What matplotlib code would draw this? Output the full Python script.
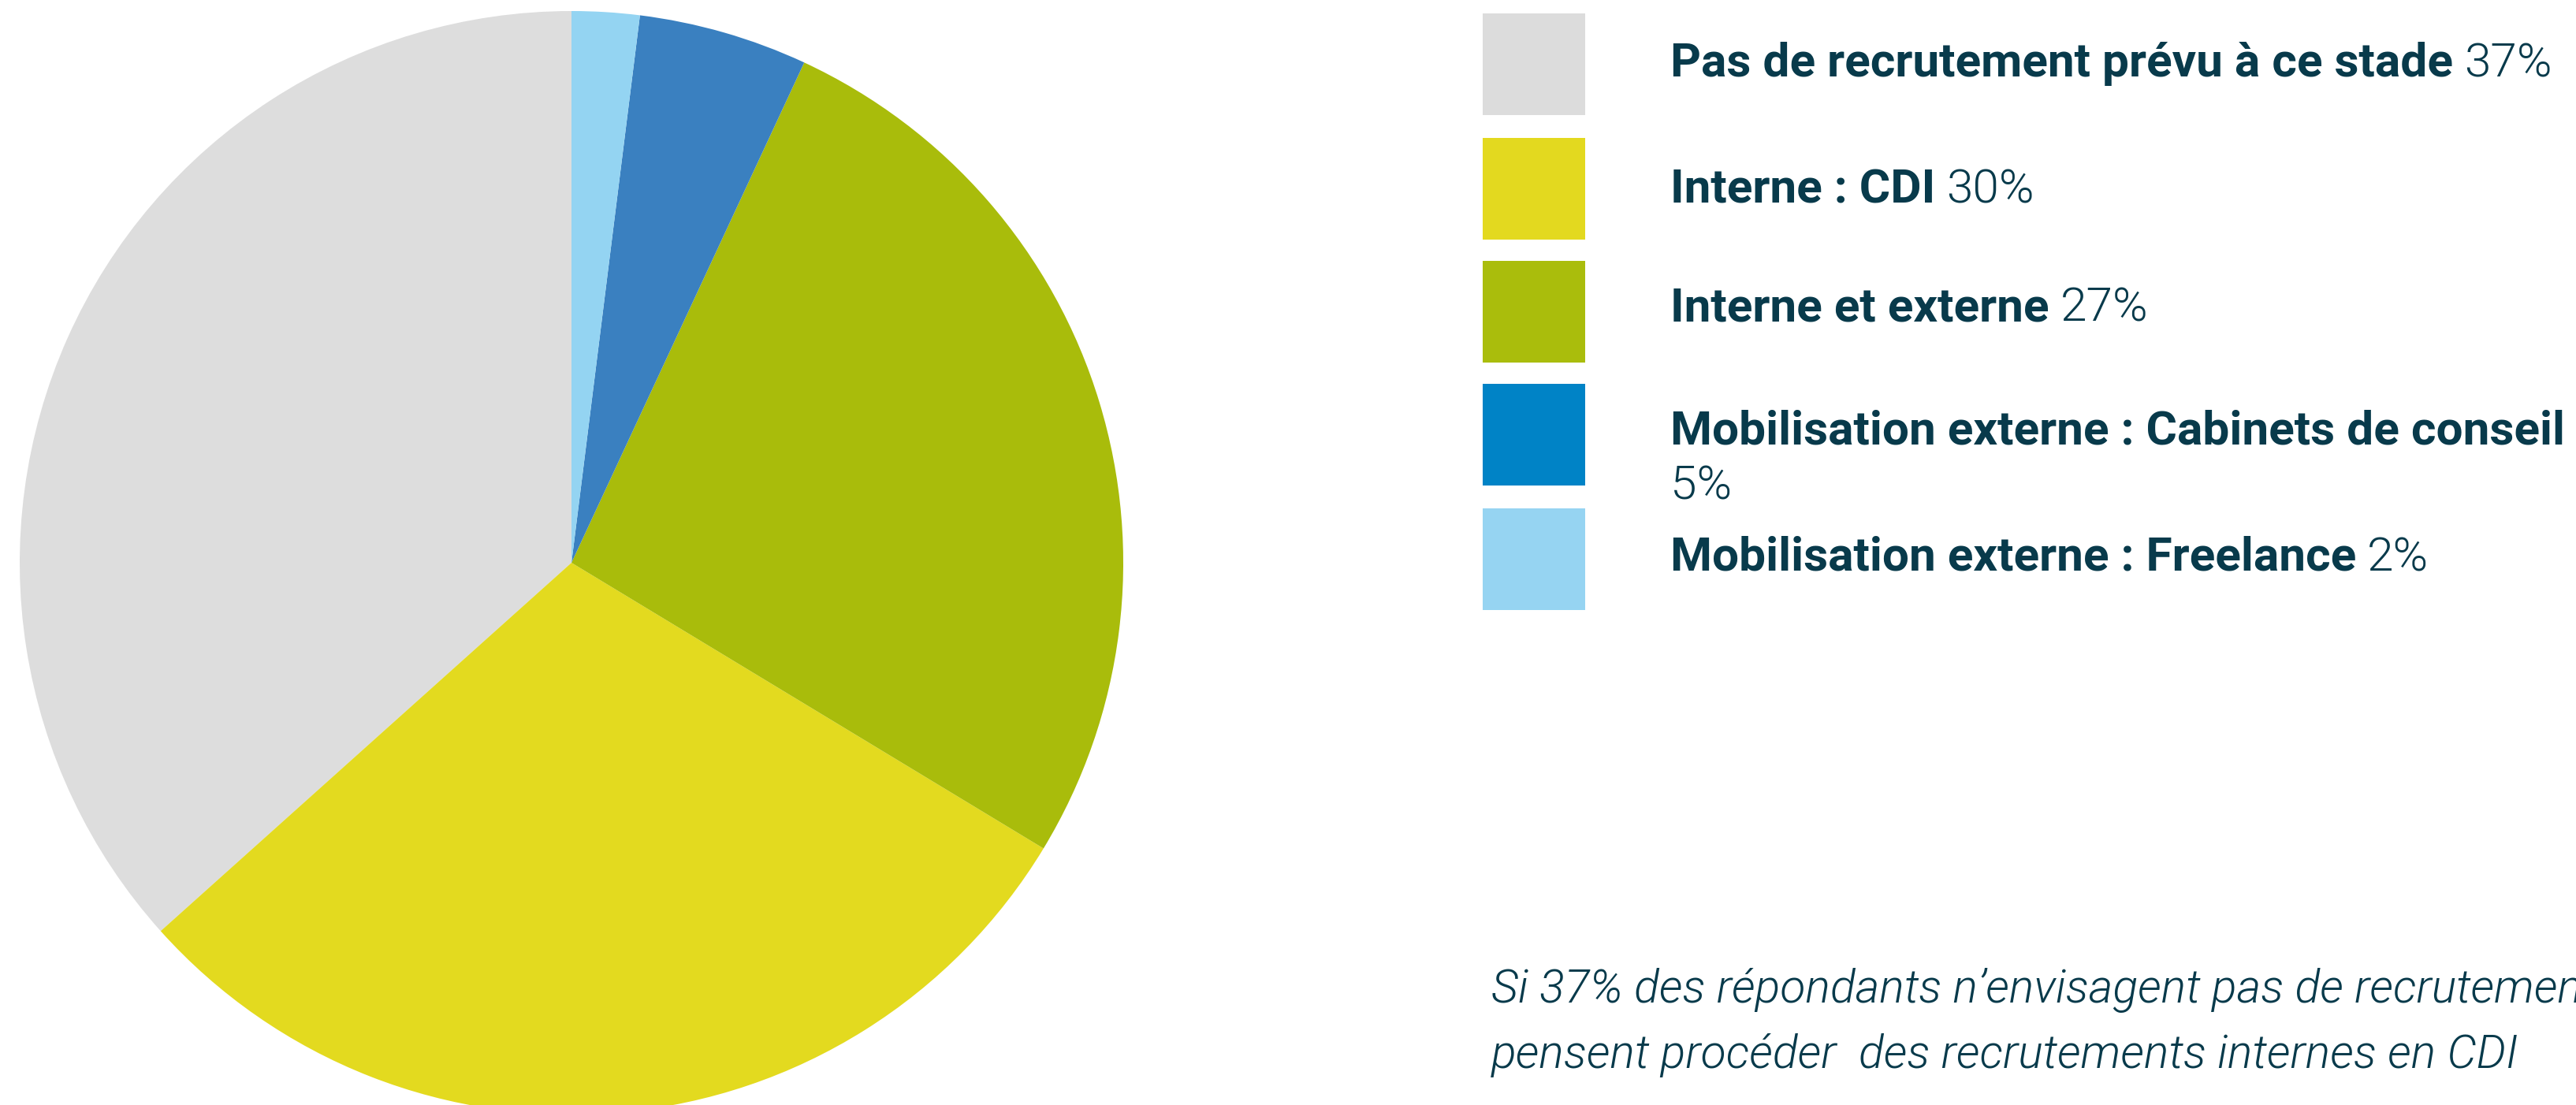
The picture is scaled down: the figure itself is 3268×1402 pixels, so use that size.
import matplotlib
matplotlib.use('Agg')
import matplotlib.pyplot as plt
from matplotlib.patches import Rectangle

# data
labels = ['Pas de recrutement prévu à ce stade', 'Interne : CDI', 'Interne et externe',
          'Mobilisation externe : Cabinets de conseil', 'Mobilisation externe : Freelance']
values = [37, 30, 27, 5, 2]
pct_text = ['37%', '30%', '27%', '5%', '2%']
pie_colors = ['#DDDDDD', '#E3DA1F', '#A9BC0B', '#3A80C0', '#94D4F2']
legend_colors = ['#DCDCDC', '#E3D91F', '#AABD0C', '#0083C6', '#96D4F2']
note = ['Si 37% des répondants n\u2019envisagent pas de recrutement',
        'pensent procéder  des recrutements internes en CDI']

TXT = '#083A4B'
W, H = 3268, 1402

fig = plt.figure(figsize=(W / 100, H / 100), dpi=100)

# pie: circle centre ~(725, 714) px, radius 700 px
R = 700
cx, cy = 725, 714
ax = fig.add_axes([(cx - R) / W, (H - cy - R) / H, 2 * R / W, 2 * R / H])
ax.pie(values, colors=pie_colors, startangle=90, counterclock=True,
       wedgeprops=dict(linewidth=0), radius=1)
ax.set_xlim(-1, 1)
ax.set_ylim(-1, 1)
ax.axis('off')

# overlay axes in pixel coords (y downwards) for the legend block
lx = fig.add_axes([0, 0, 1, 1])
lx.set_xlim(0, W)
lx.set_ylim(H, 0)
lx.axis('off')

sq_top = [17, 175, 331, 487, 645]
baselines = [97, 257, 408, 564, 724]
fs = 43.5
tx = 2119

for i in range(len(labels)):
    lx.add_patch(Rectangle((1881, sq_top[i]), 130, 129, color=legend_colors[i], lw=0))

fig.canvas.draw()
renderer = fig.canvas.get_renderer()

for i in range(len(labels)):
    t = lx.text(tx, baselines[i], labels[i], fontsize=fs, family='Roboto', weight='bold',
                color=TXT, va='baseline', ha='left')
    if i == 3:
        # too long for one line: percentage wraps below
        lx.text(tx, 633, pct_text[i], fontsize=fs, family='Roboto', weight=300,
                color=TXT, va='baseline', ha='left')
        continue
    bb = t.get_window_extent(renderer=renderer)
    x1 = bb.x1 + 14
    lx.text(x1 / fig.dpi, H / 100 - baselines[i] / 100, pct_text[i], fontsize=fs,
            family='Roboto', weight=300, color=TXT, va='baseline', ha='left',
            transform=fig.dpi_scale_trans)

note_y = [1272, 1355]
for i in range(len(note)):
    lx.text(1892, note_y[i], note[i], fontsize=42.5, family='Roboto', weight=300,
            style='italic', color=TXT, va='baseline', ha='left')

fig.savefig('out.png', dpi=100)
